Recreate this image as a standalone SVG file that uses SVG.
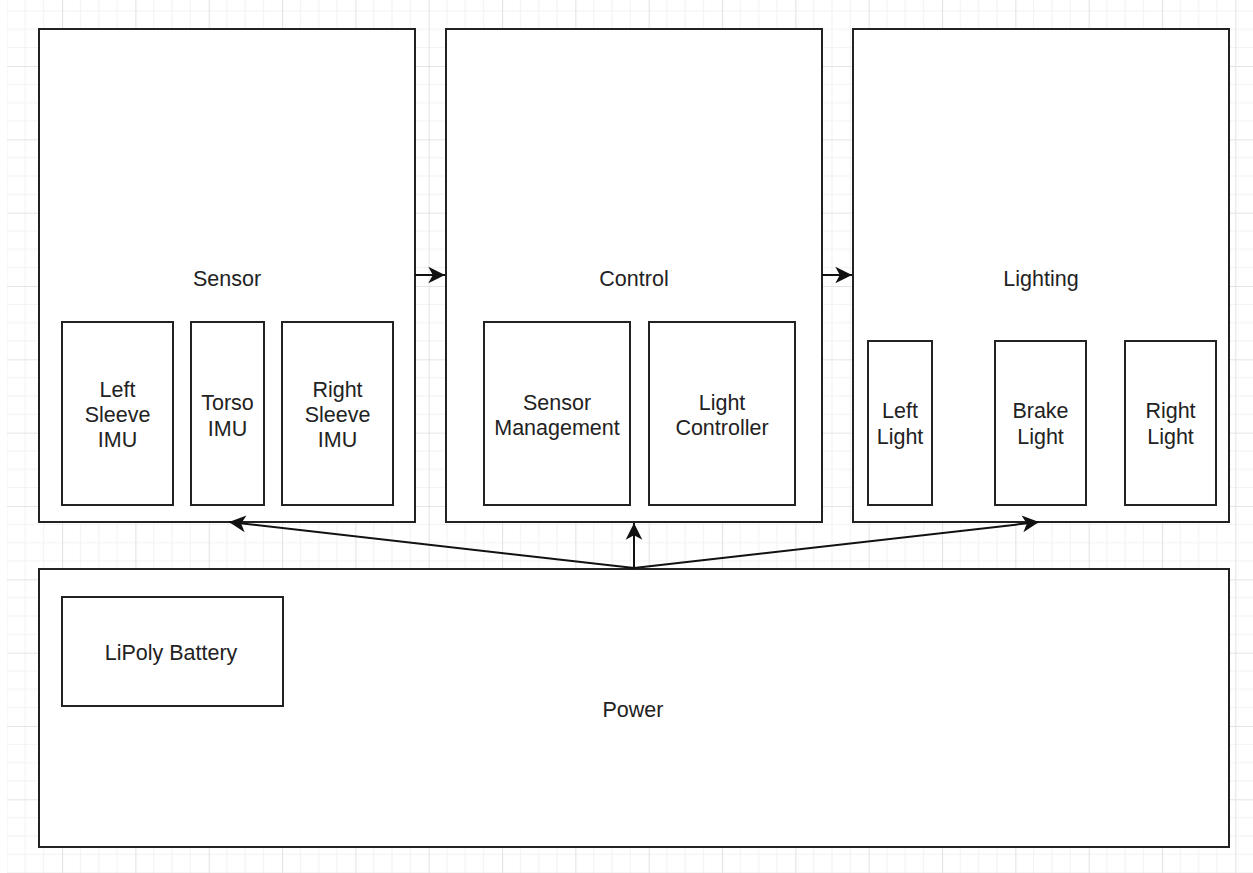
<svg xmlns="http://www.w3.org/2000/svg" width="1253" height="873" viewBox="0 0 1253 873">
<style>
.box{fill:#ffffff;stroke:#222222;stroke-width:2}
.t{font-family:"Liberation Sans",Arial,sans-serif;font-size:21.5px;fill:#222222;text-anchor:middle}
.c{fill:none;stroke:#111111;stroke-width:2}
</style>
<defs>
<pattern id="grid" patternUnits="userSpaceOnUse" x="-11.33" y="-7.33" width="73.33" height="73.33">
<path d="M18.33 0V73.33M36.67 0V73.33M55 0V73.33M0 18.33H73.33M0 36.67H73.33M0 55H73.33" stroke="#f2f2f2" stroke-width="1" fill="none"/>
<path d="M0.5 0V73.33M0 0.5H73.33" stroke="#e4e4e4" stroke-width="1.2" fill="none"/>
</pattern>
<marker id="arr" markerUnits="userSpaceOnUse" markerWidth="20" markerHeight="20" viewBox="-16 -8 18 16" refX="0" refY="0" orient="auto">
<path d="M0 0L-15 -7.5L-11 0L-15 7.5Z" fill="#111111"/>
</marker>
</defs>
<rect x="0" y="0" width="1253" height="873" fill="#ffffff"/>
<rect x="7" y="0" width="1246" height="873" fill="url(#grid)"/>

<g id="sensor">
<rect class="box" x="39" y="29" width="376" height="493"/>
<text class="t" x="227" y="286">Sensor</text>
</g>
<g id="left-sleeve-imu">
<rect class="box" x="62" y="322" width="111" height="183"/>
<text class="t" x="117.5" y="397">Left</text>
<text class="t" x="117.5" y="422">Sleeve</text>
<text class="t" x="117.5" y="447">IMU</text>
</g>
<g id="torso-imu">
<rect class="box" x="191" y="322" width="73" height="183"/>
<text class="t" x="227.5" y="410">Torso</text>
<text class="t" x="227.5" y="435.5">IMU</text>
</g>
<g id="right-sleeve-imu">
<rect class="box" x="282" y="322" width="111" height="183"/>
<text class="t" x="337.5" y="397">Right</text>
<text class="t" x="337.5" y="422">Sleeve</text>
<text class="t" x="337.5" y="447">IMU</text>
</g>

<g id="control">
<rect class="box" x="446" y="29" width="376" height="493"/>
<text class="t" x="634" y="286">Control</text>
</g>
<g id="sensor-management">
<rect class="box" x="484" y="322" width="146" height="183"/>
<text class="t" x="557" y="410">Sensor</text>
<text class="t" x="557" y="435">Management</text>
</g>
<g id="light-controller">
<rect class="box" x="649" y="322" width="146" height="183"/>
<text class="t" x="722" y="410">Light</text>
<text class="t" x="722" y="435">Controller</text>
</g>

<g id="lighting">
<rect class="box" x="853" y="29" width="376" height="493"/>
<text class="t" x="1041" y="286">Lighting</text>
</g>
<g id="left-light">
<rect class="box" x="868" y="341" width="64" height="164"/>
<text class="t" x="900" y="418">Left</text>
<text class="t" x="900" y="444">Light</text>
</g>
<g id="brake-light">
<rect class="box" x="995" y="341" width="91" height="164"/>
<text class="t" x="1040.5" y="418">Brake</text>
<text class="t" x="1040.5" y="444">Light</text>
</g>
<g id="right-light">
<rect class="box" x="1125" y="341" width="91" height="164"/>
<text class="t" x="1170.5" y="418">Right</text>
<text class="t" x="1170.5" y="444">Light</text>
</g>

<g id="power">
<rect class="box" x="39" y="569" width="1190" height="278"/>
<text class="t" x="633" y="717">Power</text>
</g>
<g id="lipoly-battery">
<rect class="box" x="62" y="597" width="221" height="109"/>
<text class="t" x="171" y="660">LiPoly Battery</text>
</g>

<g id="connectors">
<path class="c" d="M415 275H445" marker-end="url(#arr)"/>
<path class="c" d="M822 275H852" marker-end="url(#arr)"/>
<path class="c" d="M634 568L229 522" marker-end="url(#arr)"/>
<path class="c" d="M634 568V523" marker-end="url(#arr)"/>
<path class="c" d="M634 568L1039 522" marker-end="url(#arr)"/>
</g>
</svg>
